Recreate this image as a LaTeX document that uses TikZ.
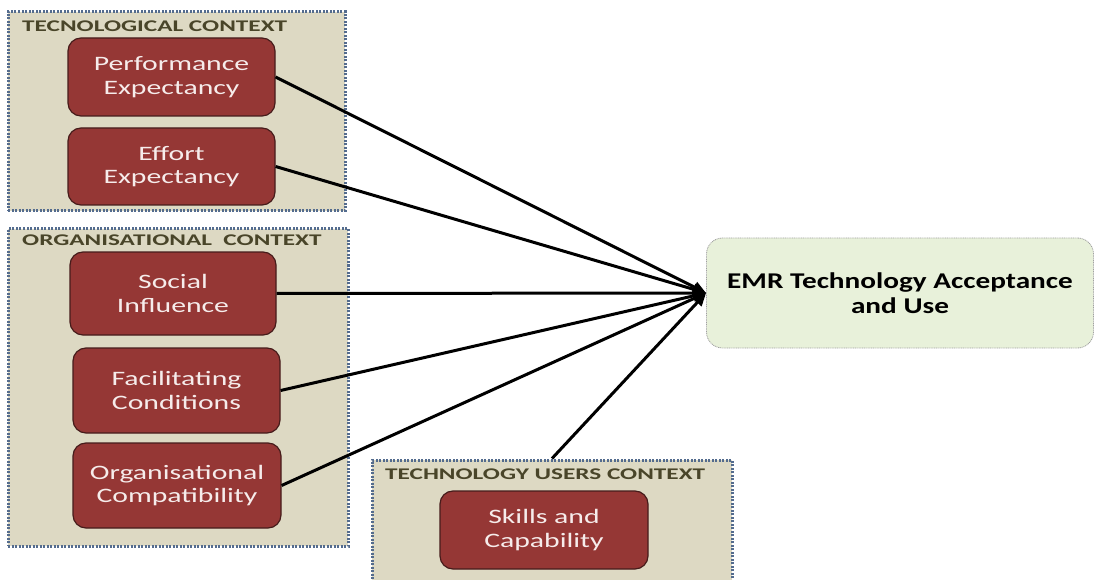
\documentclass[tikz,border=0pt]{standalone}
\usepackage{fontspec}
\usepackage{tikz}
\usetikzlibrary{arrows.meta,positioning,calc}
\newfontfamily\boxfont[FakeStretch=1.45]{Carlito}
\newfontfamily\headfont[FakeStretch=1.55]{Carlito}
\newfontfamily\targetfont[FakeStretch=1.3]{Carlito}
\definecolor{ctxBeige}{RGB}{221, 217, 195}
\definecolor{ctxRule}{RGB}{84, 108, 142}
\definecolor{ctxInk}{RGB}{73, 69, 41}
\definecolor{factorRed}{RGB}{149, 55, 53}
\definecolor{factorRule}{RGB}{70, 28, 27}
\definecolor{factorInk}{RGB}{246, 236, 235}
\definecolor{goalGreen}{RGB}{232, 241, 218}
\definecolor{goalRule}{RGB}{160, 160, 160}

\begin{document}
\begin{tikzpicture}[
      x=1pt, y=-1pt,
      ctxbox/.style={draw=ctxRule, fill=ctxBeige, line width=3pt, dash pattern=on 2pt off 1.5pt, inner sep=0pt},
      ctxlabel/.style={anchor=base west, inner sep=0pt, font=\headfont\bfseries\fontsize{16.3}{19}\selectfont\color{ctxInk}},
      factor/.style={draw=factorRule, fill=factorRed, rounded corners=13pt, line width=1.2pt, align=center, inner sep=0pt, font=\boxfont\fontsize{20.5}{23.5}\selectfont\color{factorInk}},
      goal/.style={draw=goalRule, fill=goalGreen, rounded corners=16pt, line width=0.8pt, dash pattern=on 1pt off 0.8pt, align=center, inner sep=0pt, font=\targetfont\bfseries\fontsize{22.5}{25}\selectfont},
      arr/.style={-{Triangle[length=13pt, width=11pt]}, line width=3pt, color=black}
  ]
      \useasboundingbox (0,0) rectangle (1095,580);

      % TECHNOLOGICAL CONTEXT
      \node[ctxbox, minimum width=337pt, minimum height=199pt] (techctx) at (176.5, 111.5) {};
      \node[ctxlabel] (techlbl) at (22, 31.5) {TECNOLOGICAL CONTEXT};
      \node[factor, minimum width=207pt, minimum height=78pt] (perf) at (171.5, 77) {Performance\\Expectancy};
      \node[factor, minimum width=207pt, minimum height=77pt] (effort) at (171.5, 166.5) {Effort\\Expectancy};

      % ORGANISATIONAL CONTEXT
      \node[ctxbox, minimum width=340pt, minimum height=317pt] (orgctx) at (178, 387.5) {};
      \node[ctxlabel] (orglbl) at (22, 245) {ORGANISATIONAL\ \ CONTEXT};
      \node[factor, minimum width=206pt, minimum height=83pt] (social) at (173, 293.5) {Social\\Influence};
      \node[factor, minimum width=207pt, minimum height=85pt] (facil) at (176.5, 390.5) {Facilitating\\Conditions};
      \node[factor, minimum width=208pt, minimum height=85pt] (compat) at (177, 485.5) {Organisational\\Compatibility};

      % TECHNOLOGY USERS CONTEXT
      \node[ctxbox, minimum width=360pt, minimum height=122pt] (userctx) at (552, 521) {};
      \node[ctxlabel] (userlbl) at (385, 479) {TECHNOLOGY USERS CONTEXT};
      \node[factor, minimum width=208pt, minimum height=78pt] (skills) at (544, 530) {Skills and\\Capability};

      % OUTCOME
      \node[goal, minimum width=387pt, minimum height=110pt] (emr) at (900, 293) {EMR Technology Acceptance\\and Use};

      \draw[arr] (perf.east) -- (emr.west);
      \draw[arr] (effort.east) -- (emr.west);
      \draw[arr] (social.east) -- (emr.west);
      \draw[arr] (facil.east) -- (emr.west);
      \draw[arr] (compat.east) -- (emr.west);
      \draw[arr] (userctx.north) -- (emr.west);
  \end{tikzpicture}
\end{document}
